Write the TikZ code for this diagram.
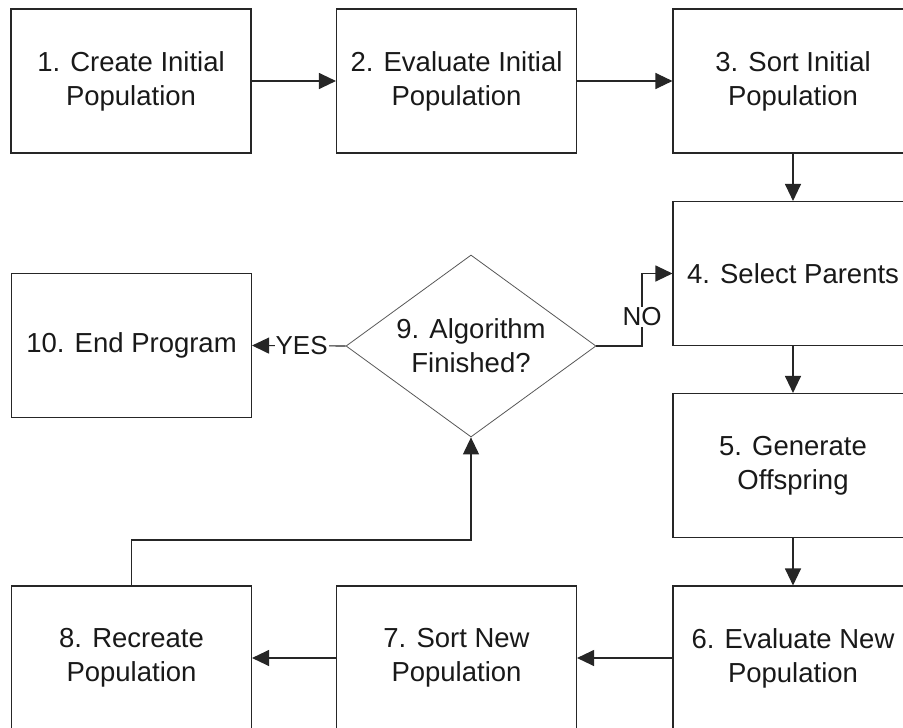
\documentclass[tikz,border=0pt]{standalone}
\usepackage{fontspec}
\setmainfont{Liberation Sans}
\usetikzlibrary{arrows.meta,shapes.geometric}
\begin{document}
\begin{tikzpicture}[x=1pt,y=-1pt,
  box/.style={draw=black!85, line width=1.1pt, minimum width=240pt, minimum height=144pt,
    inner sep=0pt, align=center, font=\fontsize{27.5}{34}\selectfont, text=black!90},
  dec/.style={draw=black!65, line width=0.8pt, diamond, minimum width=250pt, minimum height=182pt,
    inner sep=0pt, aspect=1.37, align=center, font=\fontsize{27.5}{34}\selectfont, text=black!90},
  arr/.style={draw=black!85, line width=1.1pt, -{Triangle[length=17pt,width=16pt]}},
  lbl/.style={fill=white, inner sep=1pt, font=\fontsize{26}{30}\selectfont, text=black!90}]
\useasboundingbox[fill=white] (0,0) rectangle (903,728);
\node[box] (b1) at (131,81) {1. Create Initial\\Population};
\node[box] (b2) at (456.5,81) {2. Evaluate Initial\\Population};
\node[box] (b3) at (793,81) {3. Sort Initial\\Population};
\node[box] (b4) at (793,273.5) {4. Select Parents};
\node[box] (b5) at (793,465.5) {5. Generate\\Offspring};
\node[box] (b6) at (793,658) {6. Evaluate New\\Population};
\node[box] (b7) at (456.5,658) {7. Sort New\\Population};
\node[box] (b8) at (131.5,658) {8. Recreate\\Population};
\node[dec] (b9) at (471,346) {9. Algorithm\\Finished?};
\node[box] (b10) at (131.5,345.5) {10. End Program};
\draw[arr] (b1) -- (b2);
\draw[arr] (b2) -- (b3);
\draw[arr] (b3) -- (b4);
\draw[arr] (b4) -- (b5);
\draw[arr] (b5) -- (b6);
\draw[arr] (b6) -- (b7);
\draw[arr] (b7) -- (b8);
\coordinate (c8) at (131.5,540);
\coordinate (c9) at (471,540);
\draw[arr] (b8.north) -- (c8) -- (c9) -- (b9.south);
\coordinate (n1) at (642,346);
\coordinate (n2) at (642,273.5);
\draw[arr] (b9.east) -- (n1) -- node[lbl, pos=0.4] {NO} (n2) -- (b4.west);
\draw[arr] (b9.west) -- node[lbl, pos=0.47] {YES} (b10.east);
\end{tikzpicture}
\end{document}
